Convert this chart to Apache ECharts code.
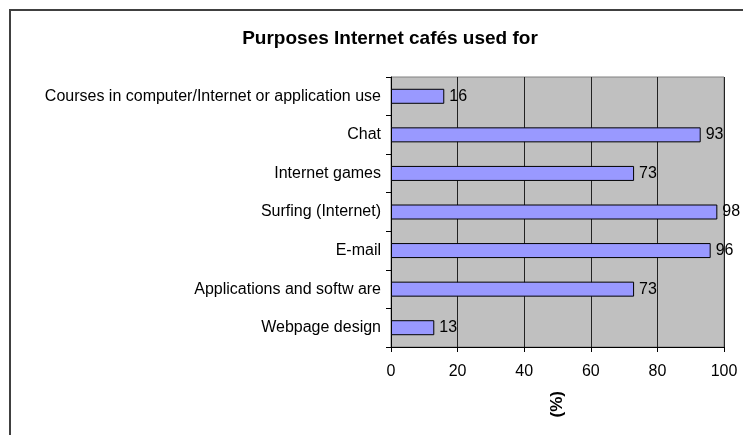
<!DOCTYPE html>
<html><head><meta charset="utf-8">
<script src="https://cdn.jsdelivr.net/npm/echarts@6/dist/echarts.min.js"></script>
<style>html,body{margin:0;padding:0;background:#fff}#c{width:743px;height:435px}</style>
</head><body><div id="c"></div>
<script>
const categories = ["Webpage design","Applications and softw are","E-mail","Surfing (Internet)","Internet games","Chat","Courses in computer/Internet or application use"];
const values = [13,73,96,98,73,93,16];
const xTicks = [0,20,40,60,80,100];
const titleText = "Purposes Internet cafés used for";
const axisName = "(%)";

const FONT = '"Liberation Sans", Arial, sans-serif';
const chart = echarts.init(document.getElementById('c'));
chart.setOption({
  animation:false,
  backgroundColor:'#fff',
  textStyle:{fontFamily:FONT},
  title:{text:titleText,left:385,top:24,textAlign:'center',
    textStyle:{fontSize:19,fontWeight:'bold',color:'#000',fontFamily:FONT}},
  graphic:[{type:'rect',shape:{x:10,y:10,width:800,height:500},style:{fill:'none',stroke:'#404040',lineWidth:2},z:-1}],
  grid:{left:391,top:77,width:333,height:270,backgroundColor:'#C0C0C0',show:true,borderColor:'#808080',borderWidth:1},
  xAxis:{type:'value',min:xTicks[0],max:xTicks[xTicks.length-1],interval:20,
    axisLine:{show:true,lineStyle:{color:'#000'}},
    axisTick:{show:true,length:5,lineStyle:{color:'#000'}},
    axisLabel:{color:'#000',fontSize:16,margin:17},
    splitLine:{show:true,lineStyle:{color:'#222',width:1}},
    name:axisName,nameLocation:'middle',nameGap:44,nameRotate:90,
    nameTextStyle:{fontSize:17,fontWeight:'bold',color:'#000'}},
  yAxis:{type:'category',data:categories,
    axisLine:{show:true,lineStyle:{color:'#000'}},
    axisTick:{show:true,length:5,lineStyle:{color:'#000'}},
    axisLabel:{color:'#000',fontSize:16,margin:10}},
  series:[{type:'bar',data:values,barWidth:15,
    itemStyle:{color:'#9999FF',borderColor:'#000',borderWidth:1},
    label:{show:true,position:'right',distance:5,color:'#000',fontSize:16}}]
});
</script></body></html>
